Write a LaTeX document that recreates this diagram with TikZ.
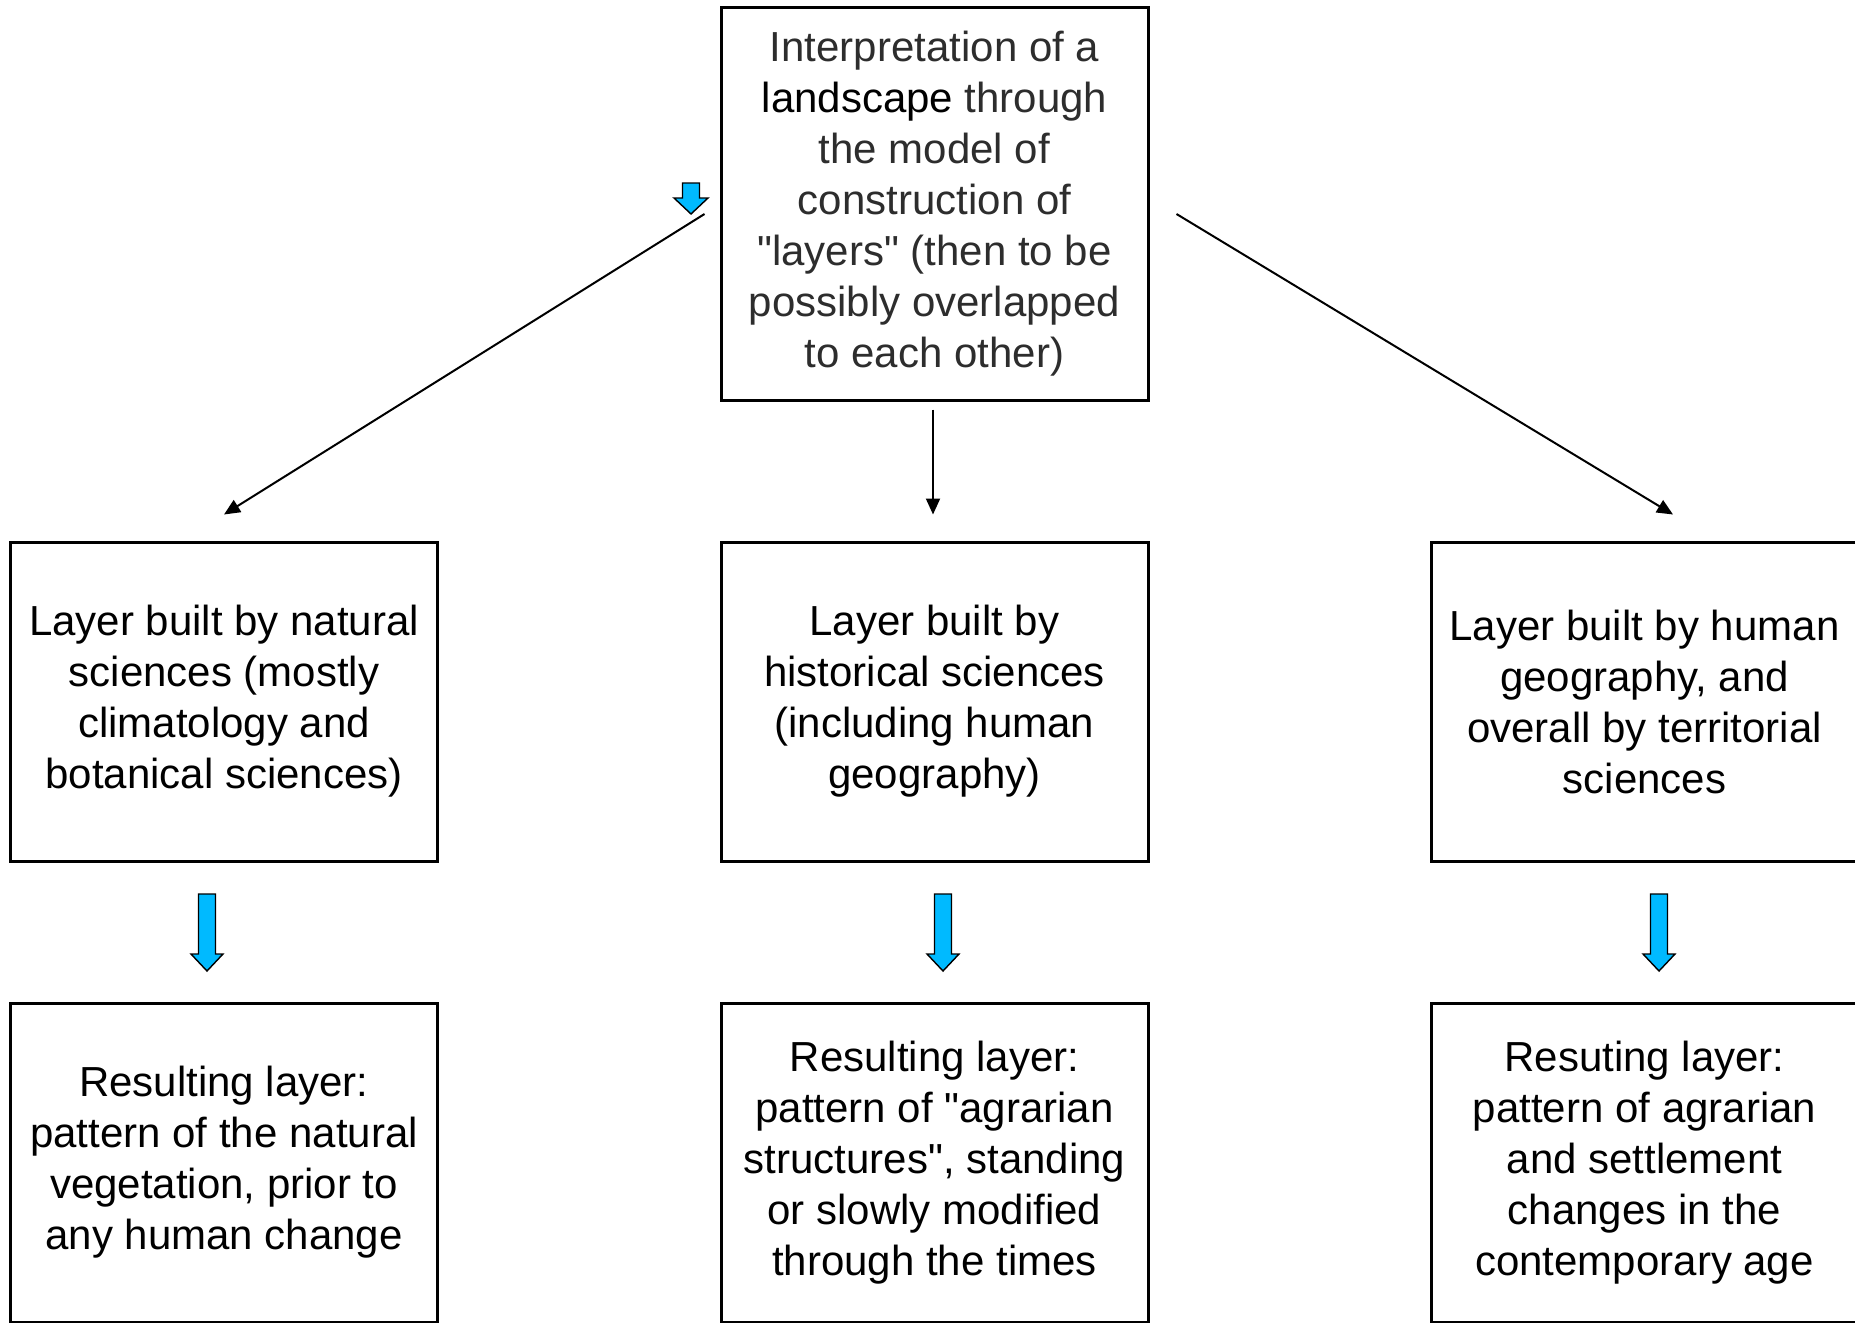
\documentclass[tikz,border=0pt]{standalone}
\usepackage{fontspec}
\setmainfont{Liberation Sans}[Ligatures=TeXOff]
\usetikzlibrary{arrows.meta,calc}
\definecolor{arrowblue}{RGB}{0,186,255}
\definecolor{topgray}{RGB}{45,45,45}
\tikzset{
  box/.style={draw=black, line width=1.5pt, minimum width=213.5pt, minimum height=159.5pt,
    align=center, inner sep=0pt, font=\fontsize{21}{25.5}\selectfont},
  conn/.style={line width=1pt, -{Triangle[length=8pt,width=7pt]}},
  bigarrow/.pic={\draw[fill=arrowblue, draw=black, line width=0.7pt]
     (-8.5,0)--(8.5,0)--(8.5,60)--(16,60)--(0,77)--(-16,60)--(-8.5,60)--cycle;},
  smallarrow/.pic={\draw[fill=arrowblue, draw=black, line width=0.7pt]
     (-8.5,0)--(8.5,0)--(8.5,15)--(17,15)--(0,31)--(-17,15)--(-8.5,15)--cycle;}
}
\begin{document}
\begin{tikzpicture}[x=0.5pt,y=-0.5pt]
\useasboundingbox (0,0) rectangle (1855,1322);
\clip (0,0) rectangle (1855,1322);
\fill[white] (0,0) rectangle (1855,1322);

\node[box, minimum height=196pt, text=topgray] (top) at (934.5,204)
  {Interpretation of a\\ \textcolor{black}{landscape} through\\ the model of\\ construction of\\ "layers" (then to be\\ possibly overlapped\\ to each other)};

\node[box] (L) at (224,701.5) {Layer built by natural\\ sciences (mostly\\ climatology and\\ botanical sciences)};
\node[box] (M) at (934.5,701.5) {Layer built by\\ historical sciences\\ (including human\\ geography)};
\node[box] (R) at (1644.5,701.5) {Layer built by human\\ geography, and\\ overall by territorial\\ sciences};

\node[box] (LB) at (224,1162.5) {Resulting layer:\\ pattern of the natural\\ vegetation, prior to\\ any human change};
\node[box] (MB) at (934.5,1162.5) {Resulting layer:\\ pattern of "agrarian\\ structures", standing\\ or slowly modified\\ through the times};
\node[box] (RB) at (1644.5,1162.5) {Resuting layer:\\ pattern of agrarian\\ and settlement\\ changes in the\\ contemporary age};

\coordinate (a1s) at ([shift={(-15,10)}]top.west);
\coordinate (a1e) at ([shift={(0,-26)}]L.north);
\coordinate (a2s) at ([shift={(-1.5,8)}]top.south);
\coordinate (a2e) at ([shift={(-1.5,-26)}]M.north);
\coordinate (a3s) at ([shift={(27,10)}]top.east);
\coordinate (a3e) at ([shift={(28.5,-26)}]R.north);

\draw[conn] (a1s) -- (a1e);
\draw[conn] (a2s) -- (a2e);
\draw[conn] (a3s) -- (a3e);

\pic at (691,183) {smallarrow};
\pic at (207,894) {bigarrow};
\pic at (943,894) {bigarrow};
\pic at (1659,894) {bigarrow};
\end{tikzpicture}
\end{document}
